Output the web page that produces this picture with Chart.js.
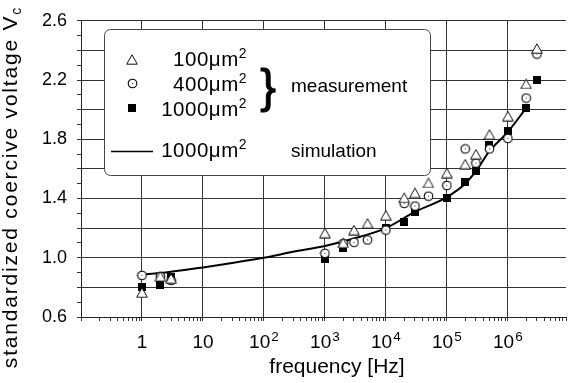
<!DOCTYPE html>
<html>
<head>
<meta charset="utf-8">
<script src="https://cdn.jsdelivr.net/npm/chart.js@4.4.0/dist/chart.umd.min.js"></script>
<style>
  html, body { margin: 0; padding: 0; background: #fff; }
  #chart { display: block; }
</style>
</head>
<body>
<canvas id="chart" width="572" height="383"></canvas>
<script>
// Values (frequency in Hz, standardized Vc)
const freq100 = [1, 2, 3, 1e3, 2e3, 3e3, 5e3, 1e4, 2e4, 3e4, 5e4, 1e5, 2e5, 3e5, 5e5, 1e6, 2e6, 3e6];
const vc100 = [0.765, 0.875, 0.86, 1.167, 1.10, 1.187, 1.233, 1.287, 1.405, 1.438, 1.505, 1.572, 1.632, 1.699, 1.833, 1.956, 2.174, 2.413];

const freq400 = [1, 2, 3, 1e3, 2e3, 3e3, 5e3, 1e4, 2e4, 3e4, 5e4, 1e5, 2e5, 3e5, 5e5, 1e6, 2e6, 3e6];
const vc400 = [0.881, 0.874, 0.847, 1.03, 1.097, 1.104, 1.12, 1.187, 1.367, 1.349, 1.416, 1.488, 1.735, 1.639, 1.735, 1.806, 2.078, 2.375];

const freq1000 = [1, 2, 3, 1e3, 2e3, 1e4, 2e4, 3e4, 1e5, 2e5, 3e5, 5e5, 1e6, 2e6, 3e6];
const vc1000 = [0.80, 0.814, 0.87, 0.993, 1.066, 1.204, 1.244, 1.311, 1.405, 1.51, 1.583, 1.762, 1.855, 2.011, 2.203];

const freqSim = [1, 3, 10, 30, 100, 300, 1e3, 3e3, 1e4, 3e4, 1e5, 2e5, 3e5, 5e5, 1e6, 2e6];
const vcSim = [0.885, 0.905, 0.935, 0.965, 1.0, 1.04, 1.08, 1.13, 1.2, 1.31, 1.41, 1.5, 1.585, 1.72, 1.85, 2.01];

// Axis labels
const decadeTicks = [1, 10, 100, 1e3, 1e4, 1e5, 1e6];
const decadeLabels = [['1', ''], ['10', ''], ['10', '2'], ['10', '3'], ['10', '4'], ['10', '5'], ['10', '6']];
const yLabels = ['0.6', '1.0', '1.4', '1.8', '2.2', '2.6'];
const legendSizes = ['100μm', '400μm', '1000μm'];

const FONT = "'Liberation Sans', Arial, Helvetica, sans-serif";
const GRID = '#333';

function toPoints(xs, ys) {
    return xs.map((x, i) => ({ x: x, y: ys[i] }));
}

function isDecade(v) {
    const l = Math.log10(v);
    return Math.abs(l - Math.round(l)) < 1e-6;
}

// Marker images
function makeMarker(kind) {
    const c = document.createElement('canvas');
    const g = c.getContext('2d');
    if (kind === 'triangle') {
        c.width = 12; c.height = 11;
        g.beginPath();
        g.moveTo(6, 0.8);
        g.lineTo(11.3, 10.2);
        g.lineTo(0.7, 10.2);
        g.closePath();
        g.fillStyle = '#fff';
        g.fill();
        g.strokeStyle = '#111';
        g.lineWidth = 1;
        g.stroke();
    } else if (kind === 'circle') {
        c.width = 11; c.height = 11;
        g.beginPath();
        g.arc(5.5, 5.5, 4.3, 0, Math.PI * 2);
        g.fillStyle = '#fff';
        g.fill();
        g.strokeStyle = '#000';
        g.lineWidth = 1.1;
        g.stroke();
        g.fillStyle = '#333';
        g.fillRect(5, 5, 1, 1);
    } else {
        c.width = 8; c.height = 8;
        g.fillStyle = '#000';
        g.fillRect(0, 0, 8, 8);
    }
    return c;
}

const triMarker = makeMarker('triangle');
const circMarker = makeMarker('circle');
const sqMarker = makeMarker('square');

function drawMarker(ctx, img, x, y) {
    ctx.drawImage(img, Math.round(x - img.width / 2), Math.round(y - img.height / 2));
}

// Legend box with brace
const legendBox = {
    id: 'legendBox',
    beforeDatasetsDraw(chart) {
        const ctx = chart.ctx;
        ctx.save();
        ctx.beginPath();
        ctx.roundRect(104.5, 29.5, 326, 146, 6);
        ctx.fillStyle = '#fff';
        ctx.fill();
        ctx.strokeStyle = '#444';
        ctx.lineWidth = 1;
        ctx.stroke();

        drawMarker(ctx, triMarker, 132, 59);
        drawMarker(ctx, circMarker, 132, 83);
        drawMarker(ctx, sqMarker, 132, 108);

        ctx.beginPath();
        ctx.moveTo(111, 151.5);
        ctx.lineTo(153, 151.5);
        ctx.strokeStyle = '#000';
        ctx.lineWidth = 1.5;
        ctx.stroke();

        ctx.fillStyle = '#000';
        ctx.textBaseline = 'alphabetic';
        ctx.letterSpacing = '0.5px';
        const rows = [[legendSizes[0], 66], [legendSizes[1], 91], [legendSizes[2], 116], [legendSizes[2], 157]];
        rows.forEach(([txt, base]) => {
            ctx.font = `14px ${FONT}`;
            const ws = ctx.measureText('2').width;
            ctx.font = `20.5px ${FONT}`;
            const wb = ctx.measureText(txt).width;
            const right = 247;
            ctx.textAlign = 'left';
            ctx.fillText(txt, right - ws - wb, base);
            ctx.font = `14px ${FONT}`;
            ctx.fillText('2', right - ws, base - 8);
        });
        ctx.letterSpacing = '0px';

        ctx.font = `19px ${FONT}`;
        ctx.fillText('measurement', 291, 92);
        ctx.fillText('simulation', 291, 157);

        // brace
        ctx.font = `47px ${FONT}`;
        ctx.textAlign = 'center';
        ctx.lineWidth = 1;
        ctx.strokeStyle = '#000';
        ctx.fillText('}', 268, 102);
        ctx.strokeText('}', 268, 102);
        ctx.restore();
    }
};

// Tick labels with superscripts, axis titles
const paperLabels = {
    id: 'paperLabels',
    afterDraw(chart) {
        const ctx = chart.ctx;
        const xs = chart.scales.x;
        ctx.save();
        ctx.fillStyle = '#000';
        ctx.textBaseline = 'alphabetic';
        ctx.textAlign = 'left';
        decadeTicks.forEach((v, i) => {
            const [base, sup] = decadeLabels[i];
            ctx.font = `19px ${FONT}`;
            const wb = ctx.measureText(base).width;
            ctx.font = `13.5px ${FONT}`;
            const ws = sup ? ctx.measureText(sup).width + 1 : 0;
            const x0 = xs.getPixelForValue(v) - (wb + ws) / 2;
            ctx.font = `19px ${FONT}`;
            ctx.fillText(base, x0, 348);
            if (sup) {
                ctx.font = `13.5px ${FONT}`;
                ctx.fillText(sup, x0 + wb + 1, 341);
            }
        });

        // x title
        ctx.font = `21px ${FONT}`;
        ctx.textAlign = 'center';
        ctx.fillText('frequency [Hz]', 337, 373);

        // y title with subscript
        ctx.translate(17, 187);
        ctx.rotate(-Math.PI / 2);
        ctx.letterSpacing = '1.8px';
        ctx.font = `21px ${FONT}`;
        const main = 'standardized coercive voltage V';
        const wm = ctx.measureText(main).width;
        ctx.font = `14px ${FONT}`;
        const wsub = ctx.measureText('c').width;
        const x0 = -(wm + wsub) / 2;
        ctx.textAlign = 'left';
        ctx.font = `21px ${FONT}`;
        ctx.fillText(main, x0, 0);
        ctx.font = `14px ${FONT}`;
        ctx.fillText('c', x0 + wm, 4);
        ctx.restore();
    }
};

const ctx = document.getElementById('chart').getContext('2d');
const chart = new Chart(ctx, {
    type: 'scatter',
    data: {
        datasets: [
            {
                label: '1000μm² simulation',
                data: toPoints(freqSim, vcSim),
                showLine: true,
                borderColor: '#000',
                borderWidth: 2,
                pointRadius: 0,
                cubicInterpolationMode: 'monotone',
                order: 4
            },
            {
                label: '1000μm²',
                data: toPoints(freq1000, vc1000),
                pointStyle: sqMarker,
                pointRadius: 5,
                order: 3
            },
            {
                label: '400μm²',
                data: toPoints(freq400, vc400),
                pointStyle: circMarker,
                pointRadius: 5,
                order: 2
            },
            {
                label: '100μm²',
                data: toPoints(freq100, vc100),
                pointStyle: triMarker,
                pointRadius: 5,
                order: 1
            }
        ]
    },
    options: {
        responsive: false,
        animation: false,
        devicePixelRatio: 1,
        layout: { padding: { top: 18, right: 0, bottom: 0, left: 0 } },
        plugins: {
            legend: { display: false },
            tooltip: { enabled: false },
            title: { display: false }
        },
        scales: {
            x: {
                type: 'logarithmic',
                min: 0.1,
                max: 9e6,
                afterBuildTicks: (axis) => {
                    const ticks = [];
                    for (let e = -1; e <= 6; e++) {
                        for (let k = 1; k <= 9; k++) {
                            const v = +(k * Math.pow(10, e)).toPrecision(6);
                            if (v <= 9e6) ticks.push({ value: v });
                        }
                    }
                    axis.ticks = ticks;
                },
                afterFit: (scale) => { scale.height = 66; },
                ticks: { display: false, autoSkip: false },
                grid: {
                    color: (c) => (c.tick && isDecade(c.tick.value)) ? GRID : 'rgba(0,0,0,0)',
                    tickColor: GRID,
                    tickLength: 4,
                    lineWidth: 1
                },
                border: { display: true, color: '#222', width: 1 }
            },
            y: {
                type: 'linear',
                min: 0.6,
                max: 2.6,
                afterBuildTicks: (axis) => {
                    const ticks = [];
                    for (let k = 6; k <= 26; k++) ticks.push({ value: k / 10 });
                    axis.ticks = ticks;
                },
                afterFit: (scale) => { scale.width = 81; },
                ticks: {
                    autoSkip: false,
                    color: '#000',
                    padding: 10,
                    font: { family: FONT, size: 18 },
                    callback: (v) => {
                        const s = Number(v).toFixed(1);
                        return yLabels.includes(s) ? s : '';
                    }
                },
                grid: {
                    color: (c) => (c.tick && Math.round(c.tick.value * 10) % 2 === 0) ? GRID : 'rgba(0,0,0,0)',
                    tickColor: GRID,
                    tickLength: 4,
                    lineWidth: 1
                },
                border: { display: true, color: '#222', width: 1 }
            }
        }
    },
    plugins: [legendBox, paperLabels]
});
</script>
</body>
</html>
